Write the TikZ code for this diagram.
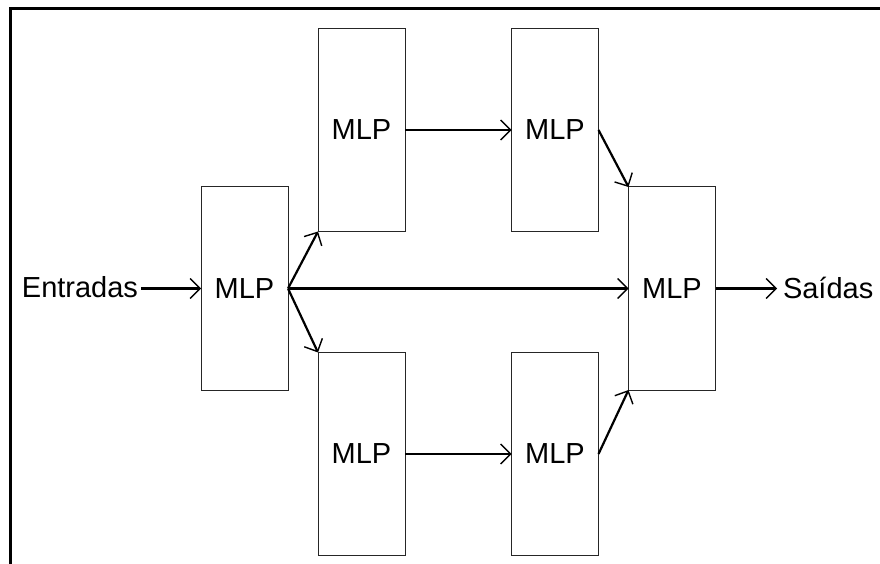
\documentclass[tikz,border=0pt]{standalone}
\usepackage{fontspec}
\setmainfont{Liberation Sans}
\usetikzlibrary{arrows.meta}
\begin{document}
\begin{tikzpicture}[x=1bp,y=-1bp,
  mlp/.style={draw=black!85,line width=1bp,rectangle,minimum width=87bp,minimum height=203bp,inner sep=0pt,outer sep=0pt,font=\fontsize{29bp}{34bp}\selectfont},
  lbl/.style={inner sep=0pt,outer sep=0pt,font=\fontsize{29bp}{34bp}\selectfont},
  conn/.style={line width=2.2bp,-{Straight Barb[length=10bp,width=20bp,line width=1.4bp]}}
]
\useasboundingbox (0,0) rectangle (880,564);
\draw[line width=3bp] (10,566) -- (10,9) -- (882,9);
\node[mlp] (A) at (244.5,288.5) {MLP};
\node[mlp] (B) at (361.5,130) {MLP};
\node[mlp] (C) at (555,130) {MLP};
\node[mlp] (D) at (361.5,454) {MLP};
\node[mlp] (E) at (555,454) {MLP};
\node[mlp] (F) at (672,288.5) {MLP};
\node[lbl,anchor=base east] (In) at (138,297) {Entradas};
\node[lbl,anchor=base west] (Out) at (783,298) {Saídas};
\draw[conn] ([xshift=3bp]In.east |- A.west) -- (A.west);
\draw[conn] (A.east) -- (B.south west);
\draw[conn] (A.east) -- (D.north west);
\draw[conn] (A.east) -- (F.west);
\draw[conn] (B.east) -- (C.west);
\draw[conn] (D.east) -- (E.west);
\draw[conn] (C.east) -- (F.north west);
\draw[conn] (E.east) -- (F.south west);
\draw[conn] (F.east) -- ([xshift=-6bp]F.east -| Out.west);
\end{tikzpicture}
\end{document}
